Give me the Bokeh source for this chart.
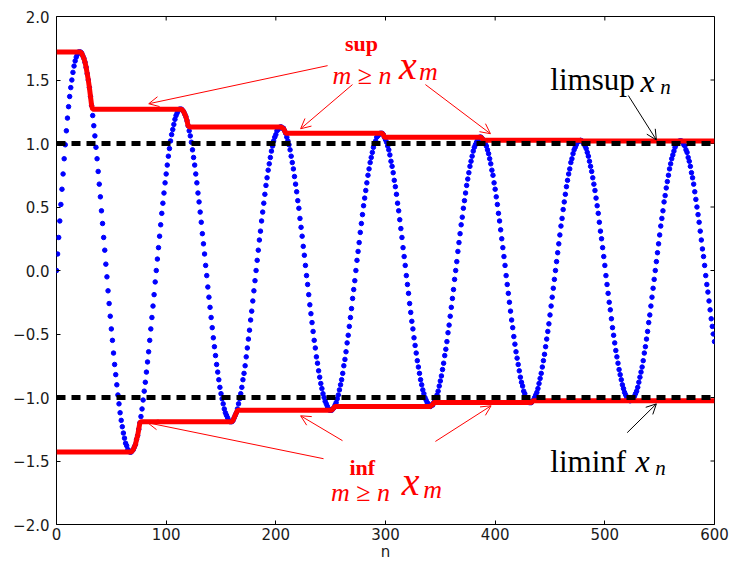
import numpy as np
from bokeh.plotting import figure
from bokeh.models import Label, Arrow, OpenHead, Range1d, FixedTicker
from bokeh.embed import file_html
from bokeh.resources import INLINE

# sequence x_n, n = 0 .. 600
xn_values = [
    0.00, 0.13, 0.26, 0.39, 0.52, 0.64, 0.76, 0.88, 0.99, 1.10,
    1.20, 1.29, 1.37, 1.44, 1.50, 1.56, 1.61, 1.65, 1.68, 1.70,
    1.72, 1.72, 1.72, 1.71, 1.69, 1.67, 1.64, 1.60, 1.55, 1.50,
    1.44, 1.37, 1.30, 1.22, 1.14, 1.06, 0.97, 0.88, 0.78, 0.68,
    0.58, 0.47, 0.37, 0.26, 0.16, 0.05, -0.05, -0.16, -0.26, -0.36,
    -0.46, -0.55, -0.65, -0.74, -0.82, -0.90, -0.98, -1.05, -1.12, -1.18,
    -1.23, -1.28, -1.32, -1.36, -1.38, -1.41, -1.42, -1.43, -1.43, -1.42,
    -1.41, -1.39, -1.37, -1.33, -1.30, -1.25, -1.20, -1.15, -1.09, -1.02,
    -0.95, -0.88, -0.80, -0.72, -0.64, -0.55, -0.46, -0.37, -0.28, -0.19, -0.09,
    0.00, 0.09, 0.18, 0.27, 0.36, 0.45, 0.53, 0.61, 0.69, 0.76,
    0.83, 0.90, 0.96, 1.02, 1.07, 1.11, 1.15, 1.19, 1.22, 1.24,
    1.26, 1.27, 1.27, 1.27, 1.26, 1.25, 1.23, 1.21, 1.18, 1.14,
    1.10, 1.06, 1.01, 0.95, 0.89, 0.83, 0.76, 0.69, 0.61, 0.54,
    0.46, 0.38, 0.29, 0.21, 0.13, 0.04, -0.04, -0.13, -0.21, -0.29,
    -0.37, -0.45, -0.53, -0.60, -0.67, -0.74, -0.80, -0.86, -0.92, -0.97,
    -1.01, -1.05, -1.09, -1.12, -1.14, -1.16, -1.18, -1.19, -1.19, -1.19,
    -1.18, -1.16, -1.14, -1.12, -1.09, -1.05, -1.01, -0.97, -0.92, -0.86,
    -0.81, -0.75, -0.68, -0.61, -0.54, -0.47, -0.39, -0.32, -0.24, -0.16, -0.08,
    0.00, 0.08, 0.16, 0.24, 0.31, 0.39, 0.46, 0.53, 0.60, 0.67,
    0.73, 0.79, 0.84, 0.89, 0.94, 0.98, 1.02, 1.05, 1.07, 1.10,
    1.11, 1.12, 1.13, 1.13, 1.12, 1.12, 1.10, 1.08, 1.05, 1.02,
    0.99, 0.95, 0.90, 0.85, 0.80, 0.74, 0.68, 0.62, 0.55, 0.49,
    0.41, 0.34, 0.27, 0.19, 0.12, 0.04, -0.04, -0.11, -0.19, -0.27,
    -0.34, -0.41, -0.48, -0.55, -0.61, -0.68, -0.73, -0.79, -0.84, -0.89,
    -0.93, -0.97, -1.00, -1.03, -1.05, -1.07, -1.09, -1.10, -1.10, -1.10,
    -1.09, -1.08, -1.06, -1.04, -1.01, -0.98, -0.94, -0.90, -0.86, -0.81,
    -0.75, -0.70, -0.64, -0.57, -0.51, -0.44, -0.37, -0.30, -0.22, -0.15, -0.08,
    0.00, 0.08, 0.15, 0.22, 0.30, 0.37, 0.44, 0.51, 0.57, 0.63,
    0.69, 0.75, 0.80, 0.85, 0.89, 0.93, 0.97, 1.00, 1.02, 1.05,
    1.06, 1.07, 1.08, 1.08, 1.08, 1.07, 1.05, 1.03, 1.01, 0.98,
    0.95, 0.91, 0.86, 0.82, 0.77, 0.71, 0.66, 0.60, 0.53, 0.47,
    0.40, 0.33, 0.26, 0.18, 0.11, 0.04, -0.04, -0.11, -0.18, -0.26,
    -0.33, -0.40, -0.46, -0.53, -0.59, -0.65, -0.71, -0.76, -0.81, -0.86,
    -0.90, -0.94, -0.97, -1.00, -1.02, -1.04, -1.05, -1.06, -1.07, -1.06,
    -1.06, -1.04, -1.03, -1.01, -0.98, -0.95, -0.91, -0.87, -0.83, -0.78,
    -0.73, -0.67, -0.62, -0.56, -0.49, -0.43, -0.36, -0.29, -0.22, -0.15, -0.07,
    0.00, 0.07, 0.15, 0.22, 0.29, 0.36, 0.42, 0.49, 0.55, 0.61,
    0.67, 0.72, 0.77, 0.82, 0.86, 0.90, 0.94, 0.97, 0.99, 1.01,
    1.03, 1.04, 1.05, 1.05, 1.04, 1.03, 1.02, 1.00, 0.98, 0.95,
    0.92, 0.88, 0.84, 0.79, 0.75, 0.69, 0.64, 0.58, 0.52, 0.45,
    0.39, 0.32, 0.25, 0.18, 0.11, 0.04, -0.04, -0.11, -0.18, -0.25,
    -0.32, -0.39, -0.45, -0.52, -0.58, -0.64, -0.69, -0.74, -0.79, -0.84,
    -0.88, -0.91, -0.95, -0.97, -1.00, -1.01, -1.03, -1.04, -1.04, -1.04,
    -1.03, -1.02, -1.00, -0.98, -0.96, -0.93, -0.89, -0.85, -0.81, -0.76,
    -0.71, -0.66, -0.60, -0.54, -0.48, -0.42, -0.35, -0.28, -0.21, -0.14, -0.07,
    0.00, 0.07, 0.14, 0.21, 0.28, 0.35, 0.41, 0.48, 0.54, 0.60,
    0.66, 0.71, 0.76, 0.80, 0.85, 0.88, 0.92, 0.95, 0.97, 0.99,
    1.01, 1.02, 1.02, 1.025, 1.02, 1.01, 1.00, 0.98, 0.96, 0.93,
    0.90, 0.86, 0.82, 0.78, 0.73, 0.68, 0.63, 0.57, 0.51, 0.45,
    0.38, 0.31, 0.25, 0.18, 0.11, 0.04, -0.04, -0.11, -0.18, -0.25,
    -0.31, -0.38, -0.45, -0.51, -0.57, -0.63, -0.68, -0.73, -0.78, -0.82,
    -0.86, -0.90, -0.93, -0.96, -0.98, -1.00, -1.01, -1.02, -1.026, -1.02,
    -1.02, -1.01, -0.99, -0.97, -0.95, -0.92, -0.88, -0.84, -0.80, -0.76,
    -0.71, -0.65, -0.60, -0.54, -0.48, -0.41, -0.35, -0.28, -0.21, -0.14, -0.07,
    0.00, 0.07, 0.14, 0.21, 0.28, 0.35, 0.41, 0.47, 0.54, 0.59,
    0.65, 0.70, 0.75, 0.80, 0.84, 0.88, 0.91, 0.94, 0.97, 0.99,
    1.00, 1.01, 1.02, 1.02, 1.02, 1.01, 0.99, 0.98, 0.95, 0.93,
    0.89, 0.86, 0.82, 0.77, 0.73, 0.68, 0.62, 0.56, 0.50, 0.44,
    0.38, 0.31, 0.24, 0.17, 0.11, 0.04, -0.04, -0.11, -0.17, -0.24,
    -0.31, -0.38, -0.44, -0.50, -0.56,
]

# levels of the sup / inf curves beyond the visible window (read at right edge)
sup_beyond = 1.02
inf_beyond = -1.025

# limits (dashed lines)
lim_sup = 1.0
lim_inf = -1.0

x_ticks = [0, 100, 200, 300, 400, 500, 600]
y_ticks = [-2.0, -1.5, -1.0, -0.5, 0.0, 0.5, 1.0, 1.5, 2.0]
y_tick_labels = ["\u22122.0", "\u22121.5", "\u22121.0", "\u22120.5", "0.0",
                 "0.5", "1.0", "1.5", "2.0"]

x = np.array(xn_values, dtype=float)
n = np.arange(len(x))
sup_m = np.maximum.accumulate(np.append(x, sup_beyond)[::-1])[::-1][:-1]
inf_m = np.minimum.accumulate(np.append(x, inf_beyond)[::-1])[::-1][:-1]

X0, X1, Y0, Y1 = 0, 600, -2.0, 2.0
FRAME_W, FRAME_H = 658, 509
W, H = 732, 563
BL, BT = 56, 16

p = figure(width=W, height=H, x_range=Range1d(X0, X1), y_range=Range1d(Y0, Y1),
           output_backend="svg", toolbar_location=None,
           min_border_left=BL, min_border_right=W - BL - FRAME_W,
           min_border_top=BT, min_border_bottom=H - BT - FRAME_H)
p.xgrid.visible = False
p.ygrid.visible = False
p.outline_line_color = "black"
p.outline_line_width = 1
p.background_fill_color = "white"
p.border_fill_color = "white"

TICK_FONT = "DejaVu Sans"
p.xaxis.ticker = FixedTicker(ticks=x_ticks)
p.yaxis.ticker = FixedTicker(ticks=y_ticks)
p.yaxis.major_label_overrides = dict(zip(y_ticks, y_tick_labels))
for ax in [p.xaxis, p.yaxis]:
    ax.axis_line_color = None
    ax.major_tick_in = 4
    ax.major_tick_out = 0
    ax.major_tick_line_color = "black"
    ax.minor_tick_line_color = None
    ax.major_label_text_font = TICK_FONT
    ax.major_label_text_font_size = "15px"
    ax.major_label_text_color = "#1a1a1a"
p.xaxis.major_label_standoff = 3
p.yaxis.major_label_standoff = 7
p.xaxis.axis_label = "n"
p.xaxis.axis_label_standoff = 0
p.xaxis.axis_label_text_font = TICK_FONT
p.xaxis.axis_label_text_font_size = "15px"
p.xaxis.axis_label_text_font_style = "normal"
p.xaxis.axis_label_text_color = "#1a1a1a"

# matplotlib-style inward ticks on the top and right edges
tick_len = 4
dy = tick_len * (Y1 - Y0) / FRAME_H
dx = tick_len * (X1 - X0) / FRAME_W
p.segment(x0=x_ticks, y0=[Y1] * len(x_ticks), x1=x_ticks, y1=[Y1 - dy] * len(x_ticks),
          line_color="black", line_width=1)
p.segment(x0=[X1] * len(y_ticks), y0=y_ticks, x1=[X1 - dx] * len(y_ticks), y1=y_ticks,
          line_color="black", line_width=1)

# sequence
p.scatter(n, x, size=4.5, color="blue", line_color="blue")
# running sup / inf
p.line(n, sup_m, line_width=5, color="red")
p.line(n, inf_m, line_width=5, color="red")
# limits
p.line([n[0], n[-1]], [lim_sup, lim_sup], line_width=5, color="black", line_dash="9 6")
p.line([n[0], n[-1]], [lim_inf, lim_inf], line_width=5, color="black", line_dash="9 6")

SERIF = "Liberation Serif"

def lab(xv, yv, txt, size, color, style="normal", align="left"):
    p.add_layout(Label(x=xv, y=yv, text=txt, text_font=SERIF,
                       text_font_size=size, text_color=color,
                       text_font_style=style, text_align=align,
                       text_baseline="alphabetic"))

# sup annotation
lab(278.1, 1.786, "sup", "22px", "red", "bold", "center")
lab(278.6, 1.535, "m \u2265 n", "26px", "red", "italic", "center")
lab(312.4, 1.613, "x", "40px", "red", "italic")
lab(330.5, 1.566, "m", "26px", "red", "italic")
# inf annotation
lab(278.8, -1.555, "inf", "22px", "red", "bold", "center")
lab(277.2, -1.751, "m \u2265 n", "26px", "red", "italic", "center")
lab(314.8, -1.660, "x", "40px", "red", "italic")
lab(334.5, -1.725, "m", "26px", "red", "italic")
# limsup / liminf
lab(450.3, 1.501, "limsup", "31px", "black")
lab(532.5, 1.496, "x", "32px", "black", "italic")
lab(550.5, 1.443, "n", "21px", "black", "italic")
lab(450.3, -1.503, "liminf", "31px", "black")
lab(528.0, -1.503, "x", "32px", "black", "italic")
lab(546.0, -1.555, "n", "21px", "black", "italic")

def arrow(x0, y0, x1, y1, color):
    p.add_layout(Arrow(end=OpenHead(size=10, line_color=color, line_width=1),
                       x_start=x0, y_start=y0, x_end=x1, y_end=y1,
                       line_color=color, line_width=1))

arrow(247.2, 1.613, 84.1, 1.313, "red")
arrow(269.9, 1.464, 222.6, 1.116, "red")
arrow(336.4, 1.464, 395.7, 1.077, "red")
arrow(243.5, -1.482, 83.2, -1.199, "red")
arrow(260.8, -1.340, 222.6, -1.144, "red")
arrow(345.5, -1.346, 396.3, -1.065, "red")
arrow(521.4, 1.378, 547.0, 1.028, "black")
arrow(520.4, -1.277, 547.0, -1.050, "black")

open("out.html", "w").write(file_html(p, INLINE))
